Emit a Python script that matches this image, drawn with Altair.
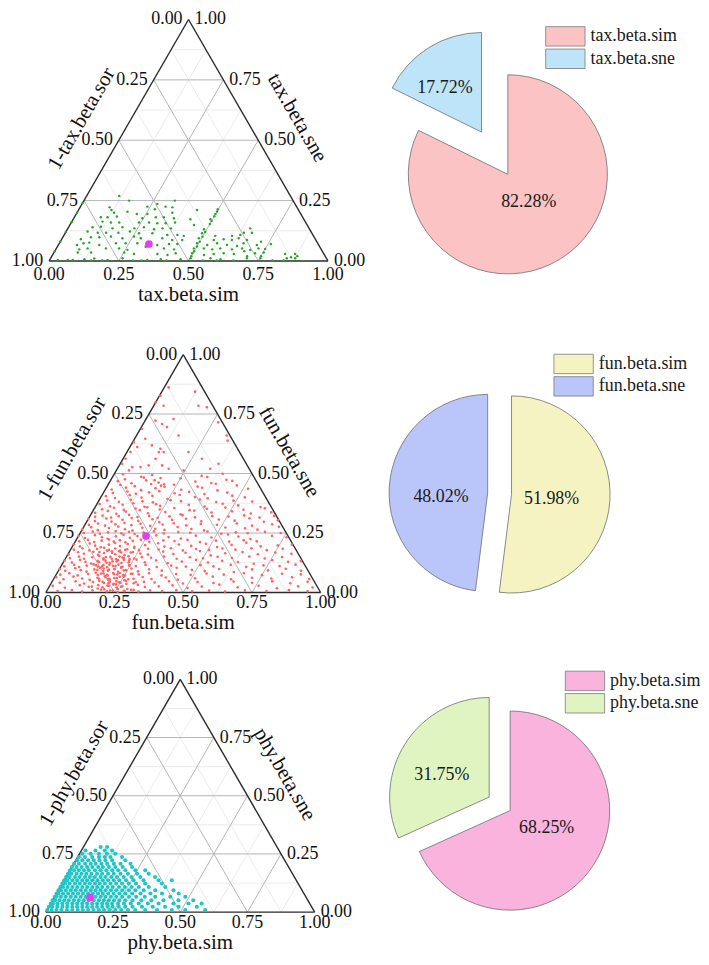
import math
import altair as alt
import pandas as pd

FONT = "Liberation Serif"
SQ = math.sqrt(3) / 2
TICKS = [0.0, 0.25, 0.5, 0.75, 1.0]
MINOR = [0.125, 0.375, 0.625, 0.875]

# ---------------- pie data ----------------
tax_cats = ["tax.beta.sim", "tax.beta.sne"]
tax_pct = [82.28, 17.72]
fun_cats = ["fun.beta.sim", "fun.beta.sne"]
fun_pct = [51.98, 48.02]
phy_cats = ["phy.beta.sim", "phy.beta.sne"]
phy_pct = [68.25, 31.75]

# ---------------- ternary means ----------------
tax_mean = [0.323, 0.070]
fun_mean = [0.246, 0.237]
phy_mean = [0.133, 0.063]

# ---------------- taxonomic points (sim, sne) ----------------
tax_sim = [
    .117, .162, .326, .270, .240, .331, .106, .118, .272, .305,
    .425, .498, .133, .179, .217, .255, .342, .499, .095, .119,
    .151, .246, .292, .321, .359, .420, .492, .500, .110, .142,
    .172, .243, .279, .310, .340, .372, .445, .086, .115, .160,
    .193, .238, .270, .311, .339, .369, .490, .654, .640, .669,
    .077, .116, .146, .190, .229, .265, .313, .370, .406, .431,
    .491, .544, .604, .632, .069, .101, .131, .171, .216, .254,
    .282, .359, .398, .434, .490, .547, .581, .612, .633, .666,
    .067, .087, .106, .147, .203, .238, .280, .355, .395, .425,
    .494, .534, .566, .605, .643, .661, .712, .084, .112, .178,
    .225, .258, .317, .386, .424, .493, .529, .561, .588, .632,
    .666, .698, .725, .085, .133, .252, .290, .374, .412, .438,
    .497, .543, .576, .610, .648, .723, .752, .832, .868, .029,
    .065, .083, .123, .157, .208, .258, .350, .397, .468, .502,
    .573, .611, .704, .752, .847, .877,
    .5, .5, .5, .5, .5, .5, .5, .5, .5,
    0, 0, 0, 0, 0, 0,
    .15, .19, .30, .33, .42, .55, .60, .66, .80, .84,
    .75, .75, .76, .86, .88, .70, .68, .72,
]
tax_sne = [
    .269, .250, .250, .236, .225, .222, .222, .211, .214, .225,
    .211, .214, .200, .204, .195, .195, .200, .195, .181, .181,
    .184, .177, .181, .181, .177, .173, .173, .153, .163, .159,
    .159, .159, .159, .156, .156, .159, .149, .140, .142, .135,
    .140, .135, .140, .131, .135, .135, .131, .135, .117, .117,
    .122, .117, .117, .117, .122, .115, .115, .108, .108, .104,
    .115, .104, .104, .108, .090, .098, .098, .101, .094, .101,
    .094, .094, .087, .087, .094, .087, .090, .087, .094, .087,
    .066, .073, .076, .066, .073, .073, .073, .066, .070, .070,
    .073, .066, .073, .066, .062, .073, .066, .048, .052, .052,
    .052, .046, .059, .052, .048, .052, .052, .048, .052, .048,
    .052, .046, .052, .035, .035, .035, .029, .029, .025, .032,
    .032, .025, .029, .032, .029, .032, .035, .029, .029, .004,
    .004, .004, .007, .010, .004, .011, .004, .007, .007, .011,
    .011, .007, .011, .011, .011, .011,
    .02, .04, .06, .08, .10, .12, .165, .185, .205,
    .04, .08, .12, .16, .20, .24,
    .002, .002, .002, .002, .002, .002, .002, .002, .002, .002,
    .02, .05, .07, .015, .02, .02, .04, .08,
]

# ---------------- functional points, row by row (sim, sne) ----------------
fun_sim_rows = [
    [.016, .003, .121, .036, .000, .163, .197, .270, .328, .342, .038, .069, .093, .006, .004, .027, .013, .009, .007,
     .051, .039, .077, .115, .116, .134, .118, .107, .081, .156, .187, .046, .338, .245, .153, .224, .287, .358, .100],
    [.032, .104, .140, .177, .322, .394],
    [.028, .082, .130, .179, .203, .311, .372, .444],
    [.023, .071, .132, .180, .210, .277, .349, .410, .518],
    [.016, .053, .101, .149, .185, .246, .282, .342, .391, .475, .524],
    [.010, .053, .095, .131, .179, .216, .234, .336, .397, .457, .517, .602],
    [.012, .054, .091, .121, .169, .205, .266, .326, .368, .435, .507, .580, .652],
    [.000, .029, .065, .090, .126, .156, .186, .234, .265, .307, .355, .416, .476, .536, .585, .645, .693],
    [.000, .028, .058, .094, .125, .155, .185, .215, .264, .300, .342, .396, .445, .517, .590, .638, .710],
    [.000, .028, .058, .088, .112, .137, .161, .191, .215, .245, .282, .330, .378, .426, .487, .541, .583, .632, .704, .760],
    [.000, .027, .057, .081, .105, .129, .148, .172, .196, .226, .262, .305, .335, .383, .431, .480, .528, .576, .625, .685, .745, .795],
    [.003, .033, .057, .087, .111, .129, .154, .172, .190, .208, .232, .262, .292, .341, .383, .425, .474, .522, .570, .631, .691, .751, .812],
    [.001, .032, .056, .080, .104, .122, .140, .158, .177, .195, .213, .237, .261, .297, .334, .382, .430, .478, .527, .575, .635, .696, .756, .817, .862],
    [.001, .025, .056, .080, .104, .128, .146, .164, .182, .201, .219, .237, .261, .291, .327, .376, .424, .484, .533, .581, .641, .702, .762, .823, .883],
    [.006, .036, .067, .103, .133, .157, .181, .199, .218, .236, .260, .290, .320, .356, .405, .453, .513, .574, .646, .719, .791, .864, .930],
    [.011, .059, .108, .144, .180, .210, .229, .247, .265, .289, .319, .349, .398, .446, .506, .555, .615, .687, .760, .832, .905, .960],
    [.144, .169, .193, .211, .235],
    [.125, .149, .173, .198, .222, .246],
    [.161, .185, .204, .222, .252, .276],
    [.184, .208, .233, .251, .275, .305],
    [.206, .230, .254, .284, .314],
    [.050, .115, .160, .250, .345, .420],
    [.045, .100, .155, .195, .240, .330, .390, .470],
    [.035, .085, .120, .165, .200, .260, .310, .370, .450],
    [.030, .075, .115, .160, .200, .260, .300, .365, .430, .490, .560],
    [.030, .070, .110, .150, .190, .240, .290, .350, .410, .475, .545, .620],
    [.020, .045, .080, .105, .140, .175, .215, .250, .290, .335, .385, .445, .505, .560, .620, .670],
    [.015, .045, .075, .110, .140, .170, .200, .240, .282, .320, .370, .420, .480, .550, .610, .680],
    [.013, .043, .073, .100, .125, .150, .175, .200, .230, .265, .305, .355, .400, .460, .515, .565, .610, .670, .730],
    [.014, .043, .070, .094, .118, .140, .160, .184, .208, .235, .270, .318, .360, .405, .455, .510, .560, .610, .660],
    [.012, .040, .070, .095, .118, .140, .160, .182, .205, .228, .250, .280, .320, .362, .410, .455, .505, .550, .600, .655, .715, .770],
    [.015, .045, .068, .095, .118, .138, .160, .185, .205, .225, .250, .275, .310, .355, .405, .450, .500, .550, .605, .665, .725, .785],
    [.012, .045, .068, .092, .115, .135, .152, .170, .188, .206, .225, .248, .272, .305, .350, .400, .455, .505, .555, .615, .675, .735, .795, .850],
    [.015, .045, .080, .115, .140, .152, .170, .190, .210, .228, .245, .270, .300, .335, .385, .435, .490, .545, .610, .680, .750, .820, .890],
    [.030, .085, .120, .150, .170, .192, .210, .228, .245, .268, .300, .335, .375, .425, .480, .530, .590, .660, .730, .800, .870, .930],
    [.040, .090, .130, .165, .195, .220, .240, .260, .280, .305, .335, .375, .420, .470, .530, .590, .650, .720, .800, .880, .950],
    [.155, .175, .195, .215, .238, .262, .165, .185, .205, .228, .250, .272, .140, .160, .180, .200, .222, .245,
     .130, .150, .170, .192, .215, .238, .110, .135, .158, .180, .200, .225],
]
fun_sne_rows = [
    [.862, .827, .844, .785, .799, .785, .778, .715, .660, .639, .722, .708, .695, .688, .632, .611, .590, .562, .541,
     .527, .646, .618, .604, .590, .590, .562, .534, .527, .534, .520, .513, .520, .513, .660, .590, .562, .541, .729],
    [.497, .486, .494, .481, .490, .499],
    [.468, .459, .471, .462, .455, .466, .460, .469],
    [.433, .441, .430, .438, .444, .432, .440, .429, .436],
    [.405, .397, .409, .399, .406, .394, .410, .401, .396, .407, .400],
    [.372, .362, .369, .375, .360, .371, .364, .368, .361, .373, .366, .359],
    [.335, .343, .331, .340, .346, .333, .338, .329, .344, .336, .341, .332, .337],
    [.309, .300, .311, .298, .306, .313, .301, .308, .296, .305, .310, .299, .307, .302, .312, .297, .303],
    [.265, .274, .262, .271, .277, .266, .260, .272, .268, .263, .275, .267, .261, .273, .270, .264, .276],
    [.238, .229, .241, .232, .226, .236, .243, .230, .237, .228, .240, .233, .227, .239, .231, .244, .235, .225, .238, .232],
    [.203, .194, .206, .197, .190, .201, .208, .195, .204, .192, .199, .207, .193, .202, .196, .205, .191, .200, .209, .194, .198, .201],
    [.160, .169, .163, .171, .158, .166, .173, .161, .168, .157, .170, .164, .159, .172, .162, .167, .174, .156, .165, .170, .161, .168, .163],
    [.134, .126, .137, .129, .122, .133, .139, .125, .131, .136, .124, .132, .138, .127, .135, .123, .130, .137, .126, .133, .128, .121, .136, .129, .132],
    [.099, .091, .102, .094, .088, .097, .103, .090, .096, .100, .087, .093, .101, .089, .098, .092, .104, .095, .090, .099, .086, .097, .093, .100, .091],
    [.064, .056, .067, .059, .053, .062, .068, .055, .061, .066, .052, .058, .065, .057, .063, .054, .060, .067, .056, .062, .059, .064, .057],
    [.028, .020, .031, .024, .017, .029, .034, .021, .027, .015, .032, .023, .026, .030, .019, .025, .033, .022, .028, .018, .026, .021],
    [.149, .142, .151, .145, .140],
    [.115, .109, .117, .111, .107, .114],
    [.080, .074, .082, .076, .071, .079],
    [.045, .039, .047, .041, .036, .044],
    [.013, .008, .015, .006, .011],
    [.476, .483, .472, .480, .485, .474],
    [.452, .447, .456, .449, .453, .445, .457, .450],
    [.418, .424, .415, .421, .426, .417, .423, .414, .420],
    [.387, .381, .390, .383, .379, .388, .384, .391, .380, .386, .382],
    [.350, .356, .347, .353, .358, .349, .355, .346, .352, .357, .348, .354],
    [.318, .323, .315, .321, .326, .317, .322, .314, .320, .325, .316, .321, .319, .324, .315, .322],
    [.284, .290, .281, .287, .292, .283, .289, .280, .286, .291, .282, .288, .285, .290, .281, .287],
    [.250, .256, .247, .253, .258, .249, .255, .246, .252, .257, .248, .254, .251, .256, .247, .253, .249, .255, .250],
    [.215, .221, .212, .218, .223, .214, .220, .211, .217, .222, .213, .219, .216, .221, .212, .218, .214, .220, .215],
    [.180, .186, .177, .183, .188, .179, .185, .176, .182, .187, .178, .184, .181, .186, .177, .183, .179, .185, .180, .186, .178, .184],
    [.145, .151, .142, .148, .153, .144, .150, .141, .147, .152, .143, .149, .146, .151, .142, .148, .144, .150, .145, .151, .143, .149],
    [.110, .116, .107, .113, .118, .109, .115, .106, .112, .117, .108, .114, .111, .116, .107, .113, .109, .115, .110, .116, .108, .114, .111, .117],
    [.075, .081, .072, .078, .083, .074, .080, .071, .077, .082, .073, .079, .076, .081, .072, .078, .074, .080, .075, .081, .073, .079, .076],
    [.041, .047, .038, .044, .049, .040, .046, .037, .043, .048, .039, .045, .042, .047, .038, .044, .040, .046, .041, .047, .039, .045],
    [.006, .010, .004, .009, .012, .005, .008, .003, .007, .011, .004, .009, .006, .010, .005, .008, .004, .009, .006, .010, .005],
    [.025, .031, .022, .028, .034, .024, .058, .064, .055, .061, .067, .056, .095, .101, .092, .098, .104, .094,
     .128, .134, .125, .131, .137, .126, .170, .176, .167, .173, .179, .168],
]

# ---------------- phylogenetic points, row by row (sne per row, sims) ----------------
phy_sne_rows = [.280, .265, .251, .237, .223, .208, .194, .180, .165, .151, .137,
                .123, .108, .094, .080, .066, .051, .037, .023, .009]
phy_sim_rows = [
    [.064, .088],
    [.015, .052, .087, .114],
    [.010, .041, .072, .102, .133],
    [.004, .027, .054, .079, .101, .122, .165],
    [.005, .024, .046, .067, .088, .110, .135, .184],
    [.001, .019, .042, .063, .081, .103, .124, .149, .174, .211],
    [.000, .017, .036, .057, .076, .098, .115, .138, .162, .189, .224],
    [.000, .015, .033, .052, .070, .093, .114, .135, .157, .179, .206, .243, .280],
    [.000, .013, .032, .050, .068, .087, .108, .127, .149, .170, .195, .223, .257, .300],
    [.000, .013, .033, .050, .070, .088, .107, .128, .146, .168, .189, .214, .243, .276, .331],
    [.000, .011, .030, .048, .067, .085, .104, .124, .143, .163, .184, .205, .230, .258, .295, .351, .400],
    [.000, .010, .027, .047, .065, .084, .102, .121, .139, .158, .179, .200, .222, .247, .274, .308, .370],
    [.000, .010, .027, .045, .063, .082, .100, .119, .137, .156, .176, .195, .218, .240, .265, .292, .329, .390],
    [.000, .009, .027, .046, .064, .083, .101, .120, .138, .157, .175, .195, .215, .237, .262, .286, .317, .360, .428],
    [.000, .007, .024, .043, .061, .080, .098, .117, .135, .154, .172, .192, .212, .234, .256, .281, .312, .349, .392, .454],
    [.000, .007, .023, .041, .060, .078, .097, .115, .134, .152, .171, .189, .209, .229, .251, .276, .303, .335, .374, .430, .486],
    [.000, .009, .026, .043, .060, .079, .097, .116, .134, .153, .172, .190, .209, .228, .248, .270, .297, .330, .367, .412, .468, .523],
    [.000, .008, .025, .043, .061, .080, .098, .117, .135, .154, .172, .191, .209, .228, .250, .272, .297, .327, .361, .401, .456, .512, .561],
    [.000, .013, .031, .050, .068, .087, .105, .124, .142, .161, .179, .198, .218, .237, .260, .284, .311, .346, .386, .432, .482, .550],
    [.001, .017, .035, .054, .074, .094, .114, .133, .153, .173, .193, .212, .232, .254, .276, .301, .328, .365, .409, .464, .514, .588],
]

# flatten row tables
fun_sim, fun_sne = [], []
for rs, rn in zip(fun_sim_rows, fun_sne_rows):
    for a, b in zip(rs, rn):
        fun_sim.append(a)
        fun_sne.append(b)
phy_sim, phy_sne = [], []
for n, rs in zip(phy_sne_rows, phy_sim_rows):
    for a in rs:
        phy_sim.append(a)
        phy_sne.append(n)


def cart(sim, sne):
    return sim + sne / 2.0, sne * SQ


def ternary(prefix, sims, snes, mean, color, psize, L, B, W, top, H,
            bot_off, title_off, lt_off, rt_off, VW=340):
    x0 = -(L - 8) / W
    xs = alt.Scale(domain=[x0, x0 + VW / W], nice=False, zero=False)
    y1 = (B - top) / W
    ys = alt.Scale(domain=[y1 - H / W, y1], nice=False, zero=False)
    X = alt.X("x:Q", scale=xs, axis=None)
    Y = alt.Y("y:Q", scale=ys, axis=None)

    def seg_rows(vals):
        out = []
        for v in vals:
            for a, b in [(cart(0, v), cart(1 - v, v)),
                         (cart(v, 0), cart(v, 1 - v)),
                         (cart(1 - v, 0), cart(0, 1 - v))]:
                out.append(dict(x=a[0], y=a[1], x2=b[0], y2=b[1]))
        return pd.DataFrame(out)

    minor = alt.Chart(seg_rows(MINOR)).mark_rule(color="#e6e6e6", strokeWidth=0.8).encode(
        x=X, y=Y, x2="x2:Q", y2="y2:Q")
    major = alt.Chart(seg_rows([0.25, 0.5, 0.75])).mark_rule(color="#b4b4b4", strokeWidth=1).encode(
        x=X, y=Y, x2="x2:Q", y2="y2:Q")
    corners = [cart(0, 0), cart(1, 0), cart(0, 1)]
    edf = pd.DataFrame([dict(x=corners[i][0], y=corners[i][1],
                             x2=corners[(i + 1) % 3][0], y2=corners[(i + 1) % 3][1]) for i in range(3)])
    edges = alt.Chart(edf).mark_rule(color="#2b2b2b", strokeWidth=1.4).encode(
        x=X, y=Y, x2="x2:Q", y2="y2:Q")

    pdf = pd.DataFrame([dict(x=cart(a, b)[0], y=cart(a, b)[1]) for a, b in zip(sims, snes)])
    pts = alt.Chart(pdf).mark_circle(size=psize, color=color, opacity=1).encode(x=X, y=Y)
    mx, my = cart(mean[0], mean[1])
    mpt = alt.Chart(pd.DataFrame([dict(x=mx, y=my)])).mark_circle(
        size=60, color="#E040F5", opacity=1).encode(x=X, y=Y)

    fmt = lambda v: f"{v:.2f}"
    bdf = pd.DataFrame([dict(x=cart(v, 0)[0], y=0.0, t=fmt(v)) for v in TICKS])
    ldf = pd.DataFrame([dict(x=cart(0, 1 - v)[0], y=cart(0, 1 - v)[1], t=fmt(v)) for v in TICKS])
    rdf = pd.DataFrame([dict(x=cart(1 - v, v)[0], y=cart(1 - v, v)[1], t=fmt(v)) for v in TICKS])
    tk = dict(font=FONT, fontSize=18, color="#111111", baseline="middle")
    blab = alt.Chart(bdf).mark_text(align="center", dy=bot_off, **tk).encode(x=X, y=Y, text="t:N")
    llab = alt.Chart(ldf).mark_text(align="right", dx=-6, **tk).encode(x=X, y=Y, text="t:N")
    rlab = alt.Chart(rdf).mark_text(align="left", dx=6, **tk).encode(x=X, y=Y, text="t:N")

    ti = dict(font=FONT, fontSize=21, color="#111111", baseline="middle", align="center")
    btitle = alt.Chart(pd.DataFrame([dict(x=0.5, y=0.0, t=prefix + ".beta.sim")])).mark_text(
        dy=title_off, **ti).encode(x=X, y=Y, text="t:N")
    lm = cart(0, 0.5)
    ltitle = alt.Chart(pd.DataFrame([dict(x=lm[0] - SQ * lt_off / W, y=lm[1] + 0.5 * lt_off / W,
                                          t="1-" + prefix + ".beta.sor")])).mark_text(
        angle=300, **ti).encode(x=X, y=Y, text="t:N")
    rm = cart(0.5, 0.5)
    rtitle = alt.Chart(pd.DataFrame([dict(x=rm[0] + SQ * rt_off / W, y=rm[1] + 0.5 * rt_off / W,
                                          t=prefix + ".beta.sne")])).mark_text(
        angle=60, **ti).encode(x=X, y=Y, text="t:N")

    return alt.layer(minor, major, edges, pts, mpt, blab, llab, rlab, btitle, ltitle, rtitle).properties(
        width=VW, height=H)


def pie(cats, pcts, colors, explode, R, cx, cy, lab_r, lab_dt, leg_x, leg_y, H, VW=353):
    rows = []
    acc = 0.0
    tot = sum(pcts)
    for i, (c, p) in enumerate(zip(cats, pcts)):
        t0 = acc / tot * 2 * math.pi
        acc += p
        t1 = acc / tot * 2 * math.pi
        mid = (t0 + t1) / 2
        px = cx + explode[i] * math.sin(mid)
        py = cy - explode[i] * math.cos(mid)
        la = mid + math.radians(lab_dt[i])
        sy = leg_y + i * 22.5
        rows.append(dict(cat=c, label=f"{p:.2f}%", t0=t0, t1=t1, px=px, py=py,
                         lx=px + lab_r[i] * R * math.sin(la), ly=py - lab_r[i] * R * math.cos(la),
                         sx=leg_x, sx2=leg_x + 39.5, sy=sy, sy2=sy + 19.5,
                         tx=leg_x + 45, ty=sy + 9.75))
    df = pd.DataFrame(rows)
    base = alt.Chart(df)
    color = alt.Color("cat:N", scale=alt.Scale(domain=cats, range=colors), legend=None)
    arcs = base.mark_arc(radius=R, stroke="#6e6e6e", strokeWidth=0.8).encode(
        theta=alt.Theta("t0:Q", scale=None), theta2="t1:Q",
        x=alt.X("px:Q", scale=None, axis=None), y=alt.Y("py:Q", scale=None, axis=None),
        color=color)
    labels = base.mark_text(font=FONT, fontSize=18, color="#1a1a1a", baseline="middle").encode(
        x=alt.X("lx:Q", scale=None, axis=None), y=alt.Y("ly:Q", scale=None, axis=None), text="label:N")
    swatch = base.mark_rect(stroke="#7a7a7a", strokeWidth=0.8).encode(
        x=alt.X("sx:Q", scale=None, axis=None), x2="sx2:Q",
        y=alt.Y("sy:Q", scale=None, axis=None), y2="sy2:Q", color=color)
    ltext = base.mark_text(font=FONT, fontSize=18, color="#1a1a1a", align="left", baseline="middle").encode(
        x=alt.X("tx:Q", scale=None, axis=None), y=alt.Y("ty:Q", scale=None, axis=None), text="cat:N")
    return alt.layer(arcs, labels, swatch, ltext).properties(width=VW, height=H)


t1 = ternary("tax", tax_sim, tax_sne, tax_mean, "#22A722", 6, L=46.3, B=260, W=280, top=8, H=312,
             bot_off=14, title_off=34, lt_off=43, rt_off=45)
p1 = pie(tax_cats, tax_pct, ["#FBC3C3", "#BEE4F9"], [0, 50], 100, 159, 165,
         [0.35, 0.576], [-5, -7.7], 197, 16.7, 312)

t2 = ternary("fun", fun_sim, fun_sne, fun_mean, "#FF6464", 7, L=43, B=593, W=276, top=320, H=322,
             bot_off=11, title_off=31, lt_off=49, rt_off=43)
p2 = pie(fun_cats, fun_pct, ["#F5F3C1", "#BAC5F9"], [0, 24], 99, 162.7, 174.5,
         [0.41, 0.475], [3.6, -8.3], 205.3, 33.7, 322)

t3 = ternary("phy", phy_sim, phy_sne, phy_mean, "#1FC6C6", 17, L=43, B=914, W=270, top=642, H=314,
             bot_off=11, title_off=31, lt_off=45, rt_off=43)
p3 = pie(phy_cats, phy_pct, ["#F9B3DC", "#DFF4C0"], [0, 25], 100, 161.3, 170,
         [0.406, 0.526], [-7.6, -7.6], 216.7, 30, 314)

chart = alt.concat(t1, p1, t2, p2, t3, p3, columns=2, spacing=0, bounds="flush").resolve_scale(
    x="independent", y="independent", color="independent").properties(
    padding=0).configure_view(stroke=None)

chart.save("out.html", embed_options={"renderer": "svg", "actions": False})
